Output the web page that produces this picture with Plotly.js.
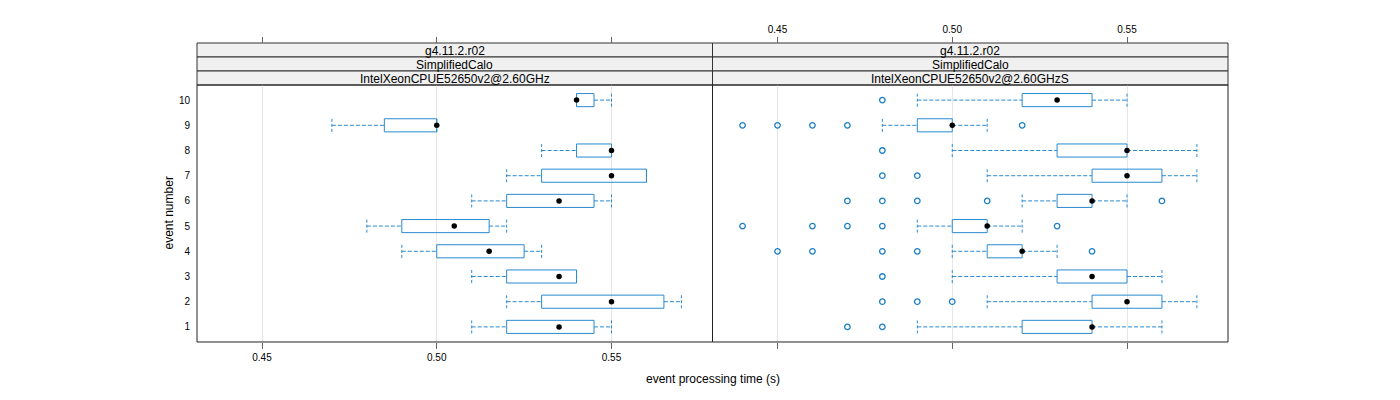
<!DOCTYPE html>
<html>
<head>
<meta charset="utf-8">
<script src="https://cdn.plot.ly/plotly-3.0.1.min.js"></script>
<style>html,body{margin:0;padding:0;background:#fff;}#chart{width:1400px;height:400px;}</style>
</head>
<body>
<div id="chart"></div>
<script>
// ---- data ----
const events = [1, 2, 3, 4, 5, 6, 7, 8, 9, 10];
const tickVals = [0.45, 0.50, 0.55];
const tickLabels = ["0.45", "0.50", "0.55"];

// Left panel: IntelXeonCPUE52650v2@2.60GHz
const leftMin = [0.51, 0.52, 0.51, 0.49, 0.48, 0.51, 0.52, 0.53, 0.47, 0.54];
const leftQ1  = [0.52, 0.53, 0.52, 0.50, 0.49, 0.52, 0.53, 0.54, 0.485, 0.54];
const leftMed = [0.535, 0.55, 0.535, 0.515, 0.505, 0.535, 0.55, 0.55, 0.50, 0.54];
const leftQ3  = [0.545, 0.565, 0.54, 0.525, 0.515, 0.545, 0.56, 0.55, 0.50, 0.545];
const leftMax = [0.55, 0.57, 0.54, 0.53, 0.52, 0.55, 0.56, 0.55, 0.50, 0.55];
const leftOutEvent = [];
const leftOutTime = [];

// Right panel: IntelXeonCPUE52650v2@2.60GHzS
const rightMin = [0.49, 0.51, 0.50, 0.50, 0.49, 0.52, 0.51, 0.50, 0.48, 0.49];
const rightQ1  = [0.52, 0.54, 0.53, 0.51, 0.50, 0.53, 0.54, 0.53, 0.49, 0.52];
const rightMed = [0.54, 0.55, 0.54, 0.52, 0.51, 0.54, 0.55, 0.55, 0.50, 0.53];
const rightQ3  = [0.54, 0.56, 0.55, 0.52, 0.51, 0.54, 0.56, 0.55, 0.50, 0.54];
const rightMax = [0.56, 0.57, 0.56, 0.53, 0.52, 0.55, 0.57, 0.57, 0.51, 0.55];
const rightOutEvent = [1, 1, 2, 2, 2, 3, 4, 4, 4, 4, 4, 5, 5, 5, 5, 5, 6, 6, 6, 6, 6, 7, 7, 8, 9, 9, 9, 9, 9, 10];
const rightOutTime  = [0.47, 0.48, 0.48, 0.49, 0.50, 0.48, 0.45, 0.46, 0.48, 0.49, 0.54, 0.44, 0.46, 0.47, 0.48, 0.53,
                       0.47, 0.48, 0.49, 0.51, 0.56, 0.48, 0.49, 0.48, 0.44, 0.45, 0.46, 0.47, 0.52, 0.48];

const stripLevels = [
  ["g4.11.2.r02", "SimplifiedCalo", "IntelXeonCPUE52650v2@2.60GHz"],
  ["g4.11.2.r02", "SimplifiedCalo", "IntelXeonCPUE52650v2@2.60GHzS"]
];
const xTitle = "event processing time (s)";
const yTitle = "event number";

// ---- styling ----
const BLUE = "#2a8ad0";
const OUTBLUE = "#1a7fc4";
const FONT = "Liberation Sans, Arial, sans-serif";
const HALF = 0.26;      // half box height (y units)
const XRANGE = [0.4314, 0.5789];
const YRANGE = [0.4, 10.6];
const PLOT_TOP_FRAC = 257 / 299;
const STRIP_H = 14 / 299;

function panelTraces(xa, ya, mn, q1, md, q3, mx, oe, ot) {
  const bx = [], by = [], wx = [], wy = [], cx = [], cy = [];
  events.forEach((e, i) => {
    bx.push(q1[i], q3[i], q3[i], q1[i], q1[i], null);
    by.push(e - HALF, e - HALF, e + HALF, e + HALF, e - HALF, null);
    wx.push(mn[i], q1[i], null, q3[i], mx[i], null);
    wy.push(e, e, null, e, e, null);
    cx.push(mn[i], mn[i], null, mx[i], mx[i], null);
    cy.push(e - HALF, e + HALF, null, e - HALF, e + HALF, null);
  });
  const common = {xaxis: xa, yaxis: ya, hoverinfo: "skip", showlegend: false, type: "scatter"};
  return [
    Object.assign({x: wx, y: wy, mode: "lines", line: {color: BLUE, width: 1, dash: "4px,2px"}}, common),
    Object.assign({x: cx, y: cy, mode: "lines", line: {color: BLUE, width: 1, dash: "3px,2px"}}, common),
    Object.assign({x: bx, y: by, mode: "lines", line: {color: BLUE, width: 1}}, common),
    Object.assign({x: ot, y: oe, mode: "markers", marker: {symbol: "circle-open", size: 5.5, color: OUTBLUE, line: {width: 1.3, color: OUTBLUE}}}, common),
    Object.assign({x: md, y: events, mode: "markers", marker: {symbol: "circle", size: 5.5, color: "#000"}}, common)
  ];
}

const traces = [].concat(
  panelTraces("x", "y", leftMin, leftQ1, leftMed, leftQ3, leftMax, leftOutEvent, leftOutTime),
  panelTraces("x2", "y2", rightMin, rightQ1, rightMed, rightQ3, rightMax, rightOutEvent, rightOutTime),
  [
    {x: [], y: [], xaxis: "x3", yaxis: "y", type: "scatter", mode: "markers", showlegend: false, hoverinfo: "skip"},
    {x: [], y: [], xaxis: "x4", yaxis: "y2", type: "scatter", mode: "markers", showlegend: false, hoverinfo: "skip"}
  ]
);

const xBase = {
  range: XRANGE, tickvals: tickVals, ticktext: tickLabels,
  ticks: "outside", ticklen: 6, tickcolor: "#666", tickwidth: 1,
  tickfont: {size: 10, color: "#000", family: FONT},
  showline: false, zeroline: false, fixedrange: true
};

const shapes = [];
["x", "x2"].forEach((xr, p) => {
  shapes.push({type: "rect", xref: xr + " domain", yref: "paper", x0: 0, x1: 1, y0: 0, y1: PLOT_TOP_FRAC,
    line: {color: "#222", width: 1}, fillcolor: "rgba(0,0,0,0)", layer: "above"});
  for (let k = 0; k < 3; k++) {
    const y1 = 1 - k * STRIP_H, y0 = y1 - STRIP_H;
    shapes.push({type: "rect", xref: xr + " domain", yref: "paper", x0: 0, x1: 1, y0: y0, y1: y1,
      line: {color: "#333", width: 1}, fillcolor: "#f0f0f0", layer: "below"});
  }
});

const annotations = [];
["x", "x2"].forEach((xr, p) => {
  for (let k = 0; k < 3; k++) {
    const yc = 1 - (k + 0.5) * STRIP_H;
    annotations.push({xref: xr + " domain", yref: "paper", x: 0.5, y: yc, yshift: -1, text: stripLevels[p][k],
      showarrow: false, font: {size: 12, color: "#000", family: FONT}, xanchor: "center", yanchor: "middle"});
  }
});
annotations.push({xref: "paper", yref: "paper", x: 0.5, y: 0, yshift: -37, text: xTitle, showarrow: false,
  font: {size: 12, color: "#000", family: FONT}, xanchor: "center", yanchor: "middle"});
annotations.push({xref: "paper", yref: "paper", x: 0, xshift: -29, y: PLOT_TOP_FRAC / 2, text: yTitle, textangle: -90,
  showarrow: false, font: {size: 12, color: "#000", family: FONT}, xanchor: "center", yanchor: "middle"});

const layout = {
  width: 1400, height: 400,
  margin: {l: 197, r: 172, t: 43, b: 58, pad: 0},
  paper_bgcolor: "#fff", plot_bgcolor: "rgba(0,0,0,0)",
  font: {family: FONT, size: 10, color: "#000"},
  showlegend: false,
  xaxis: Object.assign({}, xBase, {domain: [0, 0.5], anchor: "y", side: "bottom", showgrid: true, gridcolor: "#e6e6e6", gridwidth: 1}),
  xaxis2: Object.assign({}, xBase, {domain: [0.5, 1], anchor: "y2", side: "bottom", showticklabels: false, showgrid: true, gridcolor: "#e6e6e6", gridwidth: 1}),
  xaxis3: Object.assign({}, xBase, {overlaying: "x", anchor: "free", position: 1, side: "top", showticklabels: false, showgrid: false}),
  xaxis4: Object.assign({}, xBase, {overlaying: "x2", anchor: "free", position: 1, side: "top", showticklabels: true, showgrid: false}),
  yaxis: {domain: [0, PLOT_TOP_FRAC], anchor: "x", range: YRANGE, tickvals: events, ticktext: events.map(String),
    ticks: "", ticklabelstandoff: 6, showgrid: false, zeroline: false, showline: false, fixedrange: true,
    tickfont: {size: 10, color: "#000", family: FONT}},
  yaxis2: {domain: [0, PLOT_TOP_FRAC], anchor: "x2", range: YRANGE, showticklabels: false, ticks: "",
    showgrid: false, zeroline: false, showline: false, fixedrange: true},
  shapes: shapes,
  annotations: annotations
};

Plotly.newPlot("chart", traces, layout, {staticPlot: true, displayModeBar: false});
</script>
</body>
</html>
